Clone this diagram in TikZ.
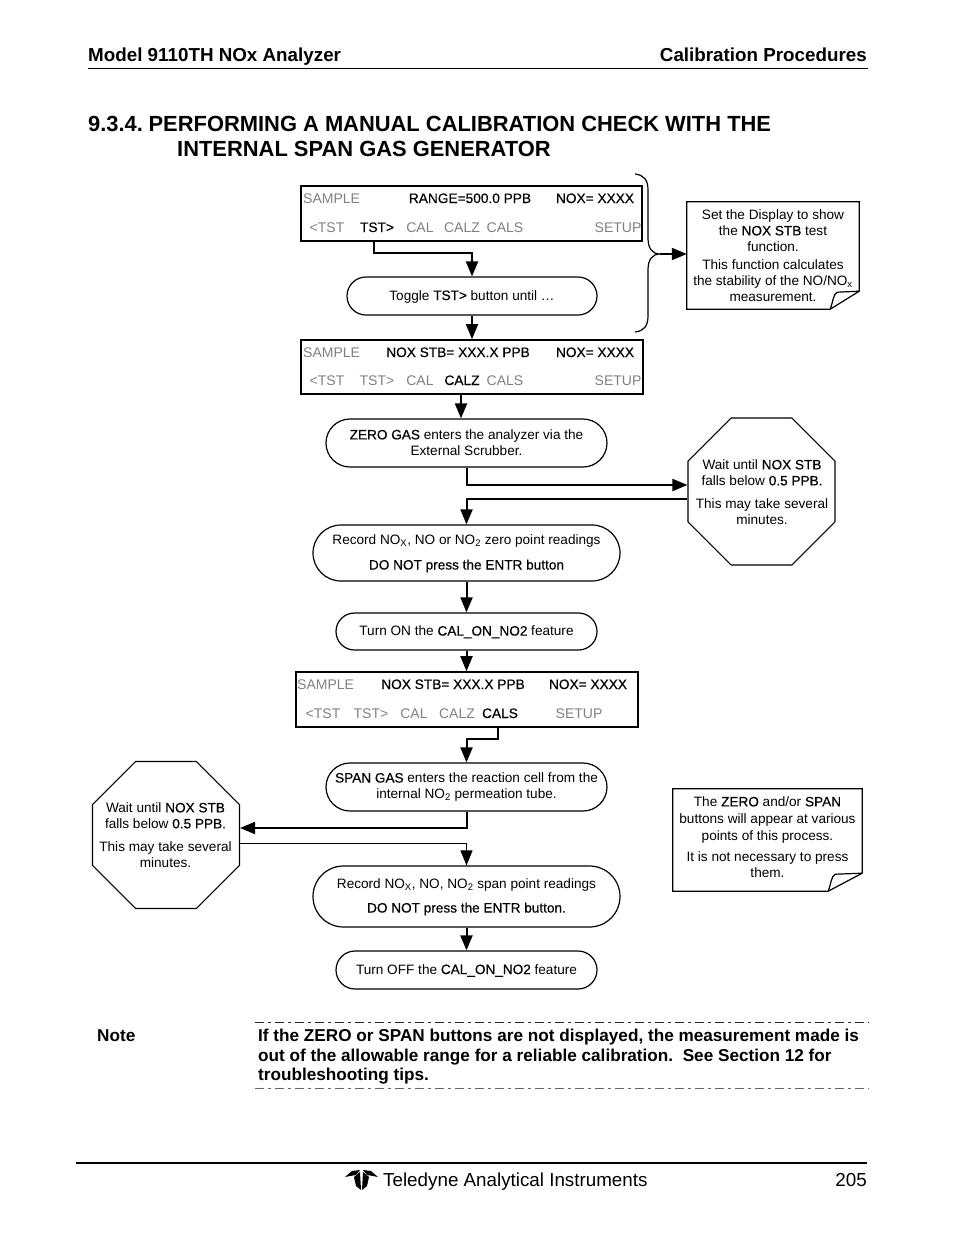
\documentclass[tikz,border=0pt]{standalone}
\usepackage{fontspec}
\setmainfont{Liberation Sans}
\newfontfamily\heavy[FakeBold=0.4]{Liberation Sans}
\usetikzlibrary{arrows.meta,shapes.geometric,shapes.misc}
\newcommand{\hv}[1]{{\heavy #1}}
\tikzset{
    body/.style={font=\fontsize{13.6}{16}\selectfont,align=center,inner sep=0pt},
    keytext/.style={font=\fontsize{14}{16}\selectfont,inner sep=0pt,text height=10pt,text depth=0pt},
    dimkey/.style={keytext,text=black!50},
    litkey/.style={keytext,text=black,font=\fontsize{13.7}{16}\selectfont\heavy},
    display/.style={draw,line width=1.6pt,inner sep=0pt,minimum height=#1},
    pill/.style={draw,rounded rectangle,line width=1.2pt,inner sep=0pt},
    octa/.style={draw,regular polygon,regular polygon sides=8,line width=1.2pt,inner sep=0pt,minimum size=159pt},
    flow/.style={line width=2pt,-{Triangle[length=15pt,width=12pt]}},
    thinflow/.style={line width=1pt,-{Triangle[length=15pt,width=12pt]}},
    head/.style={font=\fontsize{18.8}{22}\selectfont\bfseries,inner sep=0pt},
    sechead/.style={font=\fontsize{21.9}{25}\selectfont\bfseries,inner sep=0pt,anchor=base west},
    notetext/.style={font=\fontsize{17.17}{19.6}\selectfont\bfseries,inner sep=0pt,align=left},
    foot/.style={font=\fontsize{18.8}{22}\selectfont,inner sep=0pt},
    rule/.style={line width=1pt,dash pattern=on 9pt off 4pt on 3pt off 4pt}
}
\begin{document}
\begin{tikzpicture}[x=1pt,y=-1pt]
    \useasboundingbox (0,0) rectangle (954,1235);
    \fill[white] (0,0) rectangle (954,1235);
    % page head
    \node[head,anchor=base west] (model) at (88,61) {Model 9110TH NOx Analyzer};
    \node[head,anchor=base east] (chapter) at (867,61) {Calibration Procedures};
    \draw[line width=0.8pt] (88,68) -- (868,68);
    \node[sechead] (secnum) at (88,131) {9.3.4. \hspace*{-2.5pt}PERFORMING A MANUAL CALIBRATION CHECK WITH THE};
    \node[sechead] (secname) at (177,156) {INTERNAL SPAN GAS GENERATOR};
    % first display
    \node[display=55pt,minimum width=341pt] (dispa) at (471.5,213.5) {};
    \node[dimkey,anchor=west] (samplea) at (303,198) {SAMPLE};
    \node[litkey] (rangea) at (470,198) {RANGE=500.0 PPB};
    \node[litkey] (noxa) at (595,198) {NOX= XXXX};
    \foreach \nm/\px/\kt/\st in {tla/327/{<TST}/dimkey,tra/377/{TST>}/litkey,cala/420/CAL/dimkey,calza/462/CALZ/dimkey,calsa/505/CALS/dimkey,seta/618/SETUP/dimkey} {
        \node[\st] (\nm) at (\px,227) {\kt};
    }
    % toggle
    \node[pill,minimum width=250pt,minimum height=38pt] (toggle) at (472,296) {};
    \node[body] (toggletxt) at (472,296.5) {Toggle \hv{TST>} button until \dots};
    % second display
    \node[display=54pt,minimum width=342pt] (dispb) at (472,367) {};
    \node[dimkey,anchor=west] (sampleb) at (303,352) {SAMPLE};
    \node[litkey] (stbb) at (458,352) {NOX STB= XXX.X PPB};
    \node[litkey] (noxb) at (595,352) {NOX= XXXX};
    \foreach \nm/\px/\kt/\st in {tlb/327/{<TST}/dimkey,trb/377/{TST>}/dimkey,calb/420/CAL/dimkey,calzb/462/CALZ/litkey,calsb/505/CALS/dimkey,setb/618/SETUP/dimkey} {
        \node[\st] (\nm) at (\px,380) {\kt};
    }
    % zero branch
    \node[pill,minimum width=281pt,minimum height=48pt] (zerogas) at (466.5,443) {};
    \node[body] (zerotxt) at (466.5,442.5) {\hv{ZERO GAS} enters the analyzer via the\\External Scrubber.};
    \node[octa] (octr) at (761.5,491.5) {};
    \node[body] (octrtxt) at (762,492) {Wait until \hv{NOX STB}\\falls below \hv{0.5 PPB.}\\[7pt]This may take several\\minutes.};
    \node[pill,minimum width=307pt,minimum height=56pt] (record) at (466.5,553) {};
    \node[body] (recordtxt) at (466.5,553.5) {Record NO\textsubscript{X}, NO or NO\textsubscript{2} zero point readings\\[9pt]\hv{DO NOT press the ENTR button}};
    \node[pill,minimum width=261pt,minimum height=37pt] (turnon) at (466.5,631.5) {};
    \node[body] (turnontxt) at (466.5,632) {Turn ON the \hv{CAL\_ON\_NO2} feature};
    % third display
    \node[display=55pt,minimum width=342pt] (dispc) at (467,699.5) {};
    \node[dimkey,anchor=west] (samplec) at (297,684) {SAMPLE};
    \node[litkey] (stbc) at (453,684) {NOX STB= XXX.X PPB};
    \node[litkey] (noxc) at (588,684) {NOX= XXXX};
    \foreach \nm/\px/\kt/\st in {tlc/323/{<TST}/dimkey,trc/371/{TST>}/dimkey,calc/414/CAL/dimkey,calzc/457/CALZ/dimkey,calsc/500/CALS/litkey,setc/579/SETUP/dimkey} {
        \node[\st] (\nm) at (\px,713) {\kt};
    }
    % span branch
    \node[pill,minimum width=281pt,minimum height=48pt] (spangas) at (466.5,787) {};
    \node[body] (spantxt) at (466.5,787) {\hv{SPAN GAS} enters the reaction cell from the\\internal NO\textsubscript{2} permeation tube.};
    \node[octa] (octl) at (166,835) {};
    \node[body] (octltxt) at (165.5,835) {Wait until \hv{NOX STB}\\falls below \hv{0.5 PPB.}\\[7pt]This may take several\\minutes.};
    \node[pill,minimum width=307pt,minimum height=61pt] (recspan) at (466.5,896.5) {};
    \node[body] (recspantxt) at (466.5,897) {Record NO\textsubscript{X}, NO, NO\textsubscript{2} span point readings\\[8pt]\hv{DO NOT press the ENTR button.}};
    \node[pill,minimum width=261pt,minimum height=38pt] (turnoff) at (466.5,970) {};
    \node[body] (turnofftxt) at (466.5,970.5) {Turn OFF the \hv{CAL\_ON\_NO2} feature};
    % notes
    \node[inner sep=0pt,minimum width=172pt,minimum height=107pt] (noteset) at (773,255.5) {};
    \node[body] (notesettxt) at (773,255.5) {Set the Display to show\\the \hv{NOX STB} test\\function.\\[2pt]This function calculates\\the stability of the NO/NO\textsubscript{x}\\measurement.};
    \draw[line width=1.2pt] (noteset.north west) -- (noteset.north east) -- ([yshift=18pt]noteset.south east) -- ([xshift=-29pt]noteset.south east) -- (noteset.south west) -- cycle;
    \draw[line width=1.2pt] ([xshift=-29pt]noteset.south east) .. controls ([xshift=-26pt,yshift=8pt]noteset.south east) and ([xshift=-26pt,yshift=15pt]noteset.south east) .. ([xshift=-22pt,yshift=17pt]noteset.south east) -- ([yshift=18pt]noteset.south east);
    \node[inner sep=0pt,minimum width=189pt,minimum height=102pt] (notebtn) at (767.5,840) {};
    \node[body] (notebtntxt) at (767.5,837) {The \hv{ZERO} and/or \hv{SPAN}\\[1pt]buttons will appear at various\\[1pt]points of this process.\\[5pt]It is not necessary to press\\them.};
    \draw[line width=1.2pt] (notebtn.north west) -- (notebtn.north east) -- ([yshift=18pt]notebtn.south east) -- ([xshift=-34pt]notebtn.south east) -- (notebtn.south west) -- cycle;
    \draw[line width=1.2pt] ([xshift=-34pt]notebtn.south east) .. controls ([xshift=-31pt,yshift=8pt]notebtn.south east) and ([xshift=-31pt,yshift=15pt]notebtn.south east) .. ([xshift=-27pt,yshift=17pt]notebtn.south east) -- ([yshift=18pt]notebtn.south east);
    % bracket beside the first steps
    \coordinate (brtop) at (635,174);
    \coordinate (brbot) at (635,332);
    \coordinate (brmid) at (660,254);
    \draw[line width=1.2pt] (brtop) .. controls (644,175) and (648,180) .. (648,190) -- (648,238) .. controls (648,248) and (652,254) .. (brmid) .. controls (652,254) and (648,260) .. (648,270) -- (648,316) .. controls (648,326) and (644,331) .. (brbot);
    \draw[flow] (brmid) -- (noteset.west |- brmid);
    % connectors
    \draw[flow] ([xshift=-3pt]tra |- dispa.south) -- ++(0,11) -| (toggle.north);
    \draw[flow] (toggle.south) -- (dispb.north);
    \draw[flow] ([xshift=-1pt]calzb |- dispb.south) -- ([xshift=-1pt]calzb |- zerogas.north);
    \draw[flow] (zerogas.south) |- ([yshift=6.5pt]octr.west);
    \draw[flow] ([yshift=-7.5pt]octr.west) -| (record.north);
    \draw[flow] (record.south) -- (turnon.north);
    \draw[flow] (turnon.south) -- (turnon.south |- dispc.north);
    \draw[flow] ([xshift=-2pt]calsc |- dispc.south) -- ++(0,11) -| (spangas.north);
    \draw[flow] (spangas.south) |- ([yshift=7pt]octl.east);
    \draw[thinflow] ([yshift=-8pt]octl.east) -| (recspan.north);
    \draw[flow] (recspan.south) -- (turnoff.north);
    % note at the foot
    \draw[rule,black!85] (255,1022) -- (869,1022);
    \node[notetext,anchor=base west] (notehead) at (97,1041) {Note};
    \node[notetext,anchor=north west] (notebody) at (258,1029) {If the ZERO or SPAN buttons are not displayed, the measurement made is\\out of the allowable range for a reliable calibration.\ \ See Section 12 for\\troubleshooting tips.};
    \draw[rule,black!60] (255,1088) -- (869,1088);
    % page foot
    \draw[line width=2pt] (76,1163) -- (867,1163);
    \fill (345,1177) -- (352,1171) -- (360,1170) -- (356,1175) -- (350,1176) -- cycle;
    \fill (378,1177) -- (371,1171) -- (363,1170) -- (367,1175) -- (373,1176) -- cycle;
    \fill (354,1177) -- (360,1172) -- (361,1190) -- (356,1186) -- cycle;
    \fill (369,1177) -- (363,1172) -- (362,1190) -- (367,1186) -- cycle;
    \node[foot,anchor=base west] (maker) at (383,1186) {Teledyne Analytical Instruments};
    \node[foot,anchor=base east] (pageno) at (867,1186) {205};
\end{tikzpicture}
\end{document}
